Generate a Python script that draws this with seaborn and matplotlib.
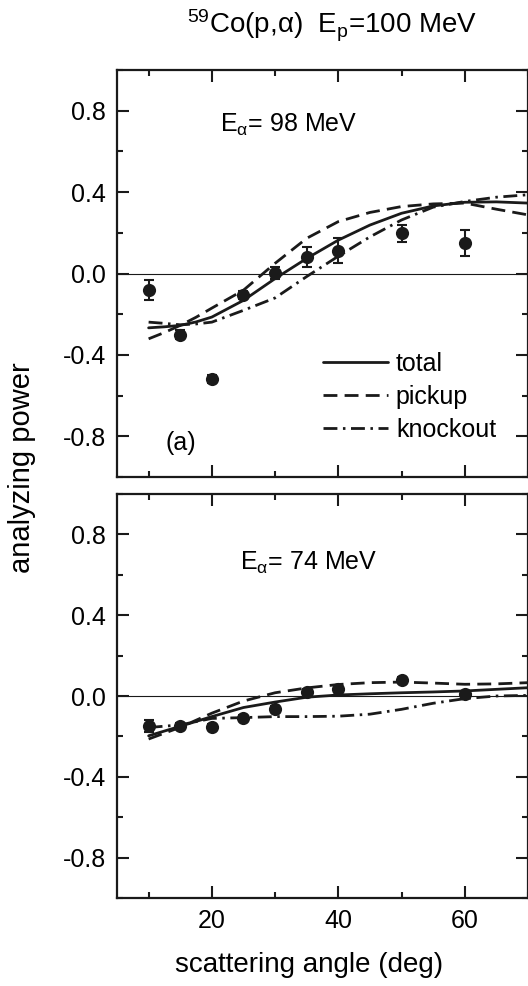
import matplotlib
matplotlib.use("Agg")
import matplotlib.pyplot as plt
import seaborn as sns
from matplotlib.ticker import MultipleLocator

sns.set_theme(style="ticks")
plt.rcParams["font.family"] = ["Liberation Sans", "DejaVu Sans"]
plt.rcParams["mathtext.fontset"] = "custom"
plt.rcParams["mathtext.rm"] = "Liberation Sans"
plt.rcParams["mathtext.it"] = "Liberation Sans:italic"
plt.rcParams["mathtext.default"] = "regular"
for key in ["text.color", "axes.labelcolor", "xtick.color", "ytick.color",
            "axes.edgecolor"]:
    plt.rcParams[key] = "black"

# --- panel (a): E_alpha = 98 MeV ---
angle_a = [10, 15, 20, 25, 30, 35, 40, 50, 60]
ap_a = [-0.082, -0.30, -0.518, -0.104, 0.003, 0.082, 0.112, 0.197, 0.151]
err_a = [0.05, 0.02, 0.02, 0.02, 0.03, 0.05, 0.06, 0.04, 0.065]

curve_x_a = [10, 12.5, 15, 17.5, 20, 25, 30, 35, 40, 45, 50, 55, 60, 65, 70]
total_a = [-0.267, -0.262, -0.255, -0.238, -0.214, -0.132, -0.025, 0.074,
           0.164, 0.238, 0.296, 0.332, 0.350, 0.352, 0.346]
pickup_a = [-0.321, -0.29, -0.255, -0.215, -0.17, -0.082, 0.05, 0.173,
            0.255, 0.30, 0.329, 0.342, 0.346, 0.316, 0.288]
knockout_a = [-0.239, -0.245, -0.252, -0.248, -0.239, -0.181, -0.12, -0.015,
              0.085, 0.18, 0.263, 0.326, 0.354, 0.375, 0.387]

# --- panel (b): E_alpha = 74 MeV ---
angle_b = [10, 15, 20, 25, 30, 35, 40, 50, 60]
ap_b = [-0.148, -0.15, -0.155, -0.107, -0.066, 0.022, 0.036, 0.079, 0.012]
err_b = [0.03, 0.015, 0.015, 0.015, 0.015, 0.015, 0.015, 0.015, 0.015]

curve_x_b = [10, 15, 20, 25, 30, 35, 40, 45, 50, 55, 60, 65, 70]
total_b = [-0.197, -0.15, -0.102, -0.057, -0.03, -0.006, 0.005, 0.011,
           0.016, 0.02, 0.025, 0.033, 0.041]
pickup_b = [-0.213, -0.155, -0.085, -0.025, 0.016, 0.04, 0.057, 0.066,
            0.069, 0.064, 0.058, 0.06, 0.066]
knockout_b = [-0.156, -0.143, -0.111, -0.107, -0.102, -0.102, -0.1, -0.09,
              -0.066, -0.036, -0.013, 0.0, 0.003]

FS = 18
LW = 2.0
DASH = (0, (5.0, 2.6))
DASHDOT = (0, (5.0, 2.0, 0.9, 2.0))

fig = plt.figure(figsize=(5.28, 9.86), dpi=100)
ax_a = fig.add_axes([117 / 528, 1 - 477 / 986, 411 / 528, 407 / 986])
ax_b = fig.add_axes([117 / 528, 1 - 898 / 986, 411 / 528, 404 / 986])


def draw_panel(ax, cx, total, pickup, knockout, ang, ap, err):
    ax.axhline(0, color="k", lw=0.8, zorder=1)
    sns.lineplot(x=cx, y=total, ax=ax, color="k", lw=LW, label="total")
    sns.lineplot(x=cx, y=pickup, ax=ax, color="k", lw=LW, linestyle=DASH,
                 label="pickup")
    sns.lineplot(x=cx, y=knockout, ax=ax, color="k", lw=LW,
                 linestyle=DASHDOT, label="knockout")
    ax.errorbar(ang, ap, yerr=err, fmt="none", ecolor="k", elinewidth=1.5,
                capsize=3.6, capthick=1.5, zorder=3)
    sns.scatterplot(x=ang, y=ap, ax=ax, color="k", s=90, edgecolor="k",
                    linewidth=0, zorder=4)

    ax.set_xlim(5, 70)
    ax.set_ylim(-1.0, 1.0)
    ax.xaxis.set_major_locator(MultipleLocator(20))
    ax.xaxis.set_minor_locator(MultipleLocator(10))
    ax.yaxis.set_major_locator(MultipleLocator(0.4))
    ax.yaxis.set_minor_locator(MultipleLocator(0.2))
    ax.set_yticks([-0.8, -0.4, 0.0, 0.4, 0.8])
    ax.set_yticklabels(["-0.8", "-0.4", "0.0", "0.4", "0.8"])
    ax.tick_params(which="both", direction="in", top=True, right=True,
                   width=1.5, labelsize=FS, pad=8, color="k")
    ax.tick_params(which="major", length=8.5)
    ax.tick_params(which="minor", length=4.3)
    for sp in ax.spines.values():
        sp.set_linewidth(1.6)
        sp.set_color("k")
    ax.set_xlabel("")
    ax.set_ylabel("")


draw_panel(ax_a, curve_x_a, total_a, pickup_a, knockout_a, angle_a, ap_a, err_a)
draw_panel(ax_b, curve_x_b, total_b, pickup_b, knockout_b, angle_b, ap_b, err_b)

ax_a.tick_params(labelbottom=False)
ax_b.get_legend().remove()
ax_a.legend(loc="center left", bbox_to_anchor=(0.501, 0.197), frameon=False,
            fontsize=FS, handlelength=2.6, handletextpad=0.32,
            borderpad=0, borderaxespad=0, labelspacing=0.35)

ax_a.text(0.25, 0.848, r"E$_\alpha$= 98 MeV", transform=ax_a.transAxes,
          fontsize=FS, va="baseline", ha="left")
ax_a.text(0.117, 0.084, "(a)", transform=ax_a.transAxes, fontsize=FS,
          va="center", ha="left")
ax_b.text(0.299, 0.812, r"E$_\alpha$= 74 MeV", transform=ax_b.transAxes,
          fontsize=FS, va="baseline", ha="left")

fig.text(0.629, 0.966, r"$^{59}$Co(p,$\alpha$)  E$_p$=100 MeV",
         fontsize=20, ha="center", va="baseline")
fig.text(0.042, 0.526, "analyzing power", rotation=90, fontsize=21,
         ha="center", va="center")
fig.text(0.585, 0.021, "scattering angle (deg)", fontsize=20,
         ha="center", va="center")

fig.savefig("out.png", dpi=100)
